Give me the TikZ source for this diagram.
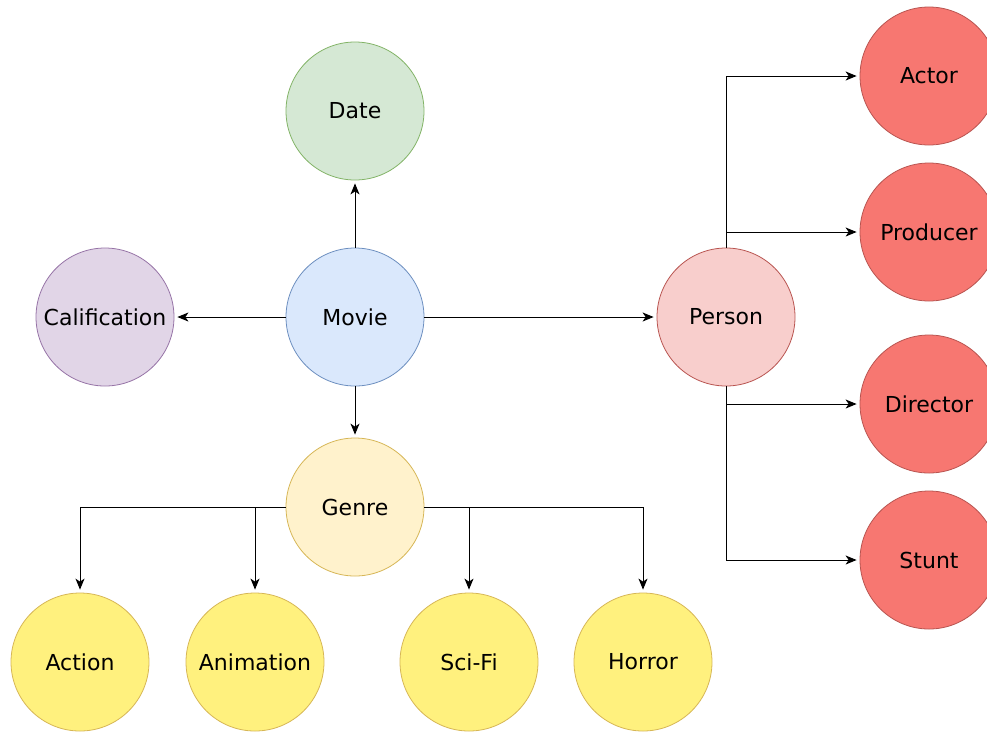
\documentclass[tikz,border=0pt]{standalone}
\usepackage{fontspec}
\setmainfont{DejaVu Sans}
\usetikzlibrary{arrows.meta}

\definecolor{dateFill}{HTML}{D5E8D4}
\definecolor{dateLine}{HTML}{82B366}
\definecolor{movieFill}{HTML}{DAE8FC}
\definecolor{movieLine}{HTML}{6C8EBF}
\definecolor{califFill}{HTML}{E1D5E7}
\definecolor{califLine}{HTML}{9673A6}
\definecolor{personFill}{HTML}{F8CECC}
\definecolor{personLine}{HTML}{B85450}
\definecolor{genreFill}{HTML}{FFF2CC}
\definecolor{genreLine}{HTML}{D6B656}
\definecolor{subFill}{HTML}{FFF17E}
\definecolor{roleFill}{HTML}{F77771}

\begin{document}
\begin{tikzpicture}[x=1pt,y=-1pt,
		entity/.style={circle, draw, line width=0.8pt, minimum size=138pt, inner sep=0pt,
			font=\fontsize{22}{26}\selectfont},
		link/.style={line width=1pt, -{Stealth[length=11pt,width=9pt,inset=3pt]}, shorten >=3pt}]
		\useasboundingbox (0,0) rectangle (987,732);

		\coordinate (D) at (355,111);
		\coordinate (M) at (355,317);
		\coordinate (C) at (105,317);
		\coordinate (P) at (726,317);
		\coordinate (G) at (355,507);

		\node[entity, fill=dateFill,   draw=dateLine]   (date)   at (D) {Date};
		\node[entity, fill=movieFill,  draw=movieLine]  (movie)  at (M) {Movie};
		\node[entity, fill=califFill,  draw=califLine]  (calif)  at (C) {Calification};
		\node[entity, fill=personFill, draw=personLine] (person) at (P) {Person};
		\node[entity, fill=genreFill,  draw=genreLine]  (genre)  at (G) {Genre};

		\node[entity, fill=subFill, draw=genreLine] (action)    at ( 80,662) {Action};
		\node[entity, fill=subFill, draw=genreLine] (animation) at (255,662) {Animation};
		\node[entity, fill=subFill, draw=genreLine] (scifi)     at (469,662) {Sci-Fi};
		\node[entity, fill=subFill, draw=genreLine] (horror)    at (643,662) {Horror};

		\node[entity, fill=roleFill, draw=personLine] (actor)    at (929, 76) {Actor};
		\node[entity, fill=roleFill, draw=personLine] (producer) at (929,232) {Producer};
		\node[entity, fill=roleFill, draw=personLine] (director) at (929,404) {Director};
		\node[entity, fill=roleFill, draw=personLine] (stunt)    at (929,560) {Stunt};

		\draw[link] (movie) -- (date);
		\draw[link] (movie) -- (calif);
		\draw[link] (movie) -- (person);
		\draw[link] (movie) -- (genre);

		\draw[link] (genre.west) -| (action.north);
		\draw[link] (genre.west) -| (animation.north);
		\draw[link] (genre.east) -| (scifi.north);
		\draw[link] (genre.east) -| (horror.north);

		\draw[link] (person.north) |- (actor.west);
		\draw[link] (person.north) |- (producer.west);
		\draw[link] (person.south) |- (director.west);
		\draw[link] (person.south) |- (stunt.west);

	\end{tikzpicture}
\end{document}
